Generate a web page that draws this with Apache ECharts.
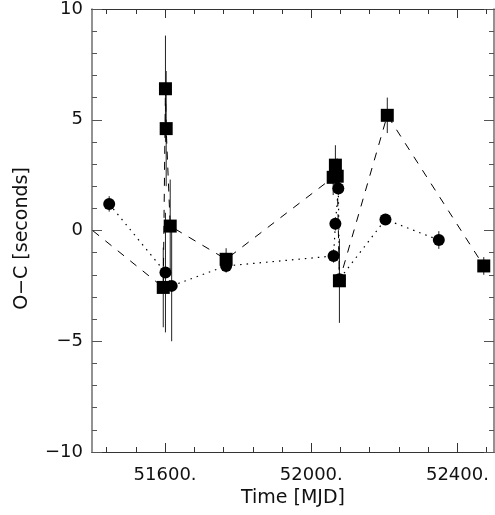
<!DOCTYPE html>
<html>
<head>
<meta charset="utf-8">
<script src="https://cdn.jsdelivr.net/npm/echarts@6/dist/echarts.min.js"></script>
<style>
  html, body { margin: 0; padding: 0; background: #fff; }
  #chart { width: 495px; height: 515px; }
</style>
</head>
<body>
<div id="chart"></div>
<script>
// squares (dashed line); first point lies left of the plotted range
var sqTime = [51300, 51595, 51601, 51603, 51614, 51767, 52060, 52066, 52071, 52077, 52208, 52472];
var sqVal  = [1.35, -2.57, 6.4, 4.6, 0.2, -1.3, 2.4, 2.95, 2.45, -2.27, 5.2, -1.6];
var sqErr  = [0.4, 1.8, 2.4, 2.6, 2.1, 0.5, 0.8, 0.9, 0.8, 1.9, 0.8, 0.4];

// circles (dotted line)
var ciTime = [51447, 51601, 51618, 51767, 52061, 52066, 52074, 52077, 52203, 52349];
var ciVal  = [1.2, -1.9, -2.5, -1.6, -1.15, 0.3, 1.9, -2.2, 0.5, -0.43];
var ciErr  = [0.35, 2.7, 2.5, 0.3, 0.3, 0.3, 0.3, 0.3, 0.25, 0.4];

var majorX = [51600, 52000, 52400];
var minorX = [51440, 51520, 51680, 51760, 51840, 51920, 52080, 52160, 52240, 52320, 52480];

function pairs(t, v) {
    return t.map(function (x, i) { return [x, v[i]]; });
}
function bars(t, v, e) {
    return t.map(function (x, i) { return [x, v[i] - e[i], v[i] + e[i]]; });
}
var errData = bars(sqTime, sqVal, sqErr).concat(bars(ciTime, ciVal, ciErr));

var font = 'DejaVu Sans, sans-serif';
var vLine = { color: '#777', width: 1.6 };
var hLine = { color: '#333', width: 1 };

function xAxis(pos, ticks, len, withLabel) {
    return {
        type: 'value', position: pos, min: 51400, max: 52500,
        axisLine: { show: true, onZero: false, lineStyle: hLine },
        axisTick: { show: true, inside: true, length: len, customValues: ticks, lineStyle: { color: '#333' } },
        axisLabel: withLabel ? {
            show: true, customValues: ticks, margin: 14, color: '#111',
            fontSize: 18, fontFamily: font,
            formatter: function (v) { return v + '.'; }
        } : { show: false },
        splitLine: { show: false }
    };
}
function yAxis(pos, withLabel) {
    return {
        type: 'value', position: pos, min: -10, max: 10, interval: 5,
        axisLine: { show: true, onZero: false, lineStyle: vLine },
        axisTick: { show: true, inside: true, length: 10, lineStyle: { color: '#555' } },
        minorTick: { show: true, splitNumber: 5, length: 5, lineStyle: { color: '#555' } },
        axisLabel: withLabel ? {
            show: true, margin: 9, color: '#111', fontSize: 18, fontFamily: font,
            formatter: function (v) { return String(v).replace('-', '\u2212'); }
        } : { show: false },
        splitLine: { show: false },
        minorSplitLine: { show: false }
    };
}

var xs = [xAxis('bottom', majorX, 9, true), xAxis('bottom', minorX, 5, false),
          xAxis('top', majorX, 9, false), xAxis('top', minorX, 5, false)];
xs[0].name = 'Time [MJD]';
xs[0].nameLocation = 'middle';
xs[0].nameGap = 36;
xs[0].nameTextStyle = { fontSize: 19, fontFamily: font, color: '#111' };

var ys = [yAxis('left', true), yAxis('right', false)];
ys[0].name = 'O\u2212C [seconds]';
ys[0].nameLocation = 'middle';
ys[0].nameGap = 60;
ys[0].nameTextStyle = { fontSize: 19, fontFamily: font, color: '#111', padding: [0, 16, 0, 0] };

var chart = echarts.init(document.getElementById('chart'));
chart.setOption({
    animation: false,
    backgroundColor: '#fff',
    grid: { left: 92, right: 1, top: 7, bottom: 63, containLabel: false },
    xAxis: xs,
    yAxis: ys,
    series: [
        {
            type: 'custom', xAxisIndex: 0, yAxisIndex: 0, clip: true, z: 1,
            data: errData,
            renderItem: function (params, api) {
                var a = api.coord([api.value(0), api.value(1)]);
                var b = api.coord([api.value(0), api.value(2)]);
                return {
                    type: 'line',
                    shape: { x1: a[0], y1: a[1], x2: b[0], y2: b[1] },
                    style: { stroke: '#222', lineWidth: 1 }
                };
            }
        },
        {
            type: 'line', xAxisIndex: 0, yAxisIndex: 0, clip: true, z: 2,
            data: pairs(sqTime, sqVal),
            symbol: 'rect', symbolSize: 13,
            itemStyle: { color: '#000' },
            lineStyle: { color: '#000', width: 1, type: [8, 8] }
        },
        {
            type: 'line', xAxisIndex: 0, yAxisIndex: 0, clip: true, z: 2,
            data: pairs(ciTime, ciVal),
            symbol: 'circle', symbolSize: 12,
            itemStyle: { color: '#000' },
            lineStyle: { color: '#000', width: 1.2, type: [1.5, 5] }
        }
    ]
});
</script>
</body>
</html>
